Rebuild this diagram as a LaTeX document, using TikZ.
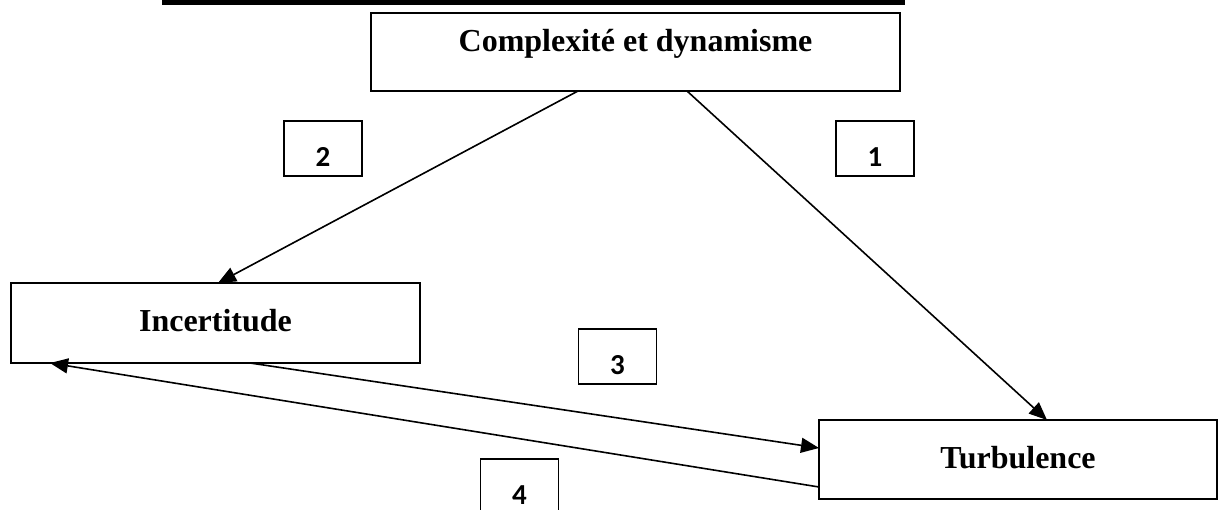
\documentclass[tikz,border=0pt]{standalone}
\usepackage{fontspec}
\setmainfont{Liberation Serif}
\newfontfamily\numfont{Carlito}
\usetikzlibrary{arrows.meta,calc}

\tikzset{
  mainbox/.style={draw=black, line width=1.8pt, fill=white, inner sep=0pt, outer sep=0pt,
    font=\fontsize{32}{36}\selectfont\bfseries, text depth=0pt},
  numbox/.style={draw=black, line width=1.8pt, inner sep=0pt, outer sep=0pt,
    minimum width=78pt, minimum height=55pt,
    font=\numfont\bfseries\fontsize{29}{32}\selectfont, text height=36pt, text depth=0pt},
  link/.style={line width=1.6pt, -{Triangle[length=18pt,width=15pt]}}
}

\begin{document}
\begin{tikzpicture}[x=1pt, y=-1pt]
  \useasboundingbox (0,0) rectangle (1218,510);
  \clip (0,0) rectangle (1218,510);

  % heavy rule along the top edge
  \fill (162,0) rectangle (905,5);

  % the three main boxes
  \node[mainbox, minimum width=529pt, minimum height=78pt, text height=0pt]
    (cd) at (635.5,52) {Complexité et dynamisme};
  \node[mainbox, minimum width=409pt, minimum height=80pt, text height=17pt]
    (inc) at (215.5,323) {Incertitude};
  \node[mainbox, minimum width=398pt, minimum height=79pt, text height=18pt]
    (turb) at (1018,459.5) {Turbulence};

  % numbered tags
  \node[numbox] (n1) at (875,148.5) {1};
  \node[numbox] (n2) at (323,148.5) {2};
  \node[numbox] (n3) at (617.5,356.5) {3};
  \node[numbox] (n4) at (519.5,486.5) {4};

  % connectors
  \draw[link] ($(cd.south west)+(207,0)$) -- ($(inc.north west)+(207,0)$);
  \draw[link] ($(cd.south west)+(316,0)$) -- ($(turb.north west)+(228,0)$);
  \draw[link] ($(inc.south west)+(239,0)$) -- ($(turb.north west)+(0,28)$);
  \draw[link] ($(turb.north west)+(0,67)$) -- ($(inc.south west)+(39,0)$);
\end{tikzpicture}
\end{document}
